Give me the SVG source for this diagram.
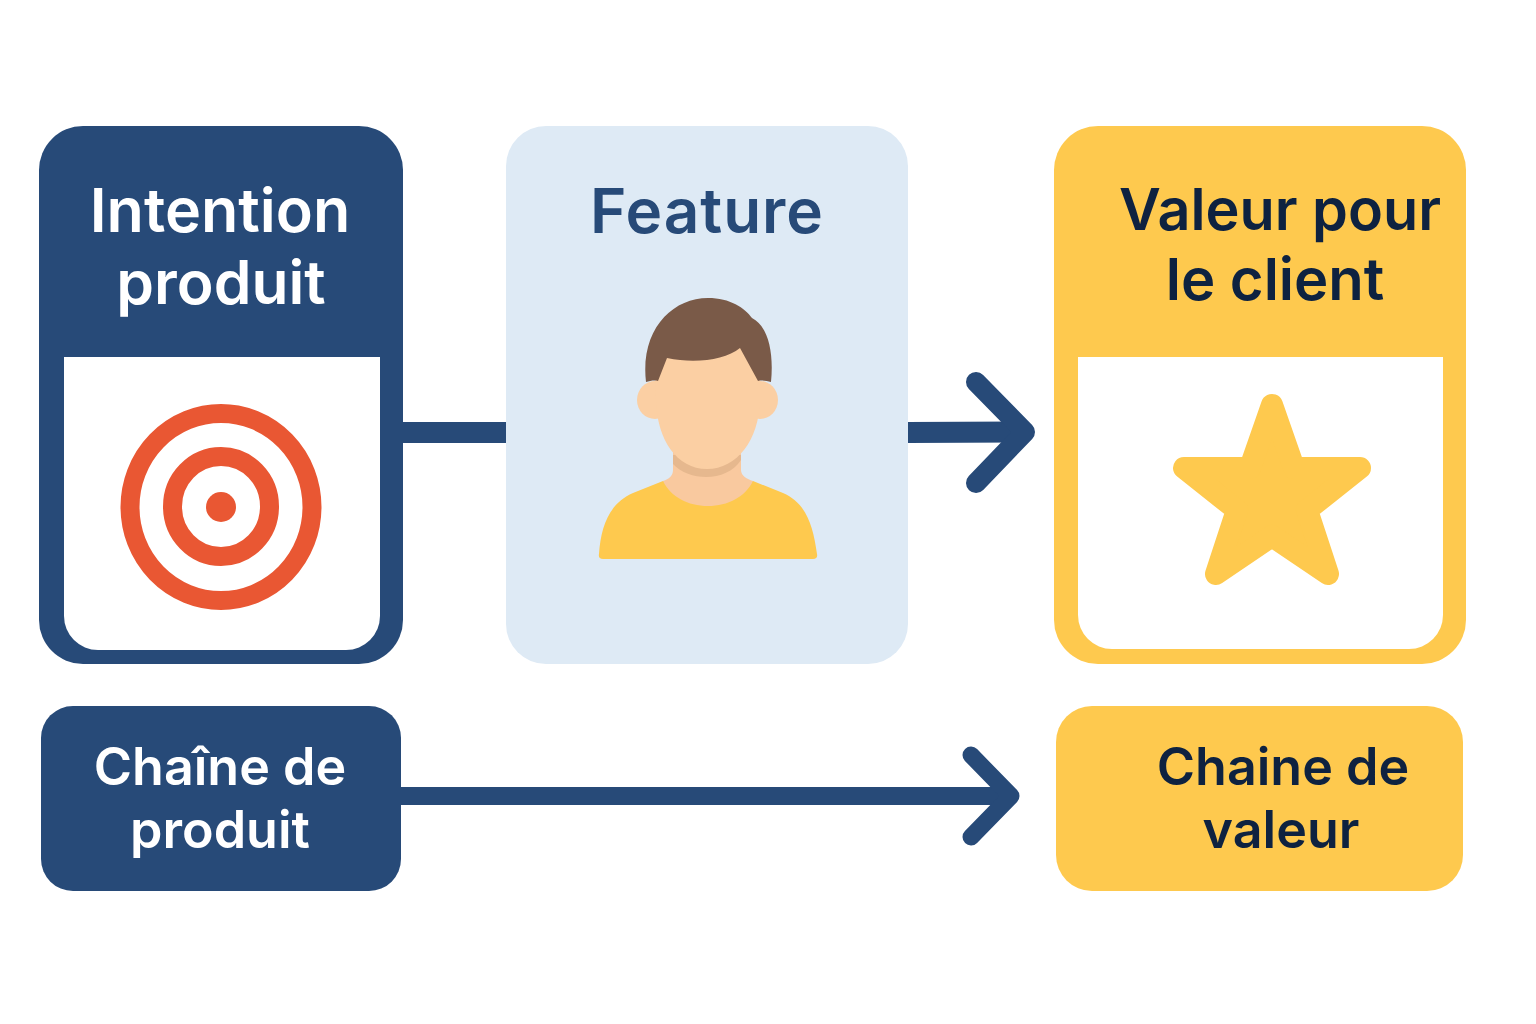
<svg xmlns="http://www.w3.org/2000/svg" width="1536" height="1024" viewBox="0 0 1536 1024">
<style>
text{font-family:"Inter","Liberation Sans",sans-serif;font-weight:600;text-anchor:middle}
.navy{fill:#274a78}.yel{fill:#fec94e}.ink{fill:#0e2240}.wh{fill:#fff}
.line{fill:none;stroke:#274a78;stroke-linecap:round;stroke-linejoin:round}
.skin{fill:#fbcfa3}
.ring{fill:none;stroke:#e95733;stroke-width:19}
</style>
<rect width="1536" height="1024" fill="#fff"/>
<g id="connectors">
<path d="M403 432.500H506" fill="none" stroke="#274a78" stroke-width="21"/>
<path d="M908 432.500L1025 432" fill="none" stroke="#274a78" stroke-width="21"/>
<path class="line" stroke-width="20" d="M976 382L1025 432L976 483"/>
<path d="M401 796H1008" fill="none" stroke="#274a78" stroke-width="18"/>
<path class="line" stroke-width="17" d="M971 755L1011 796L971 837"/>
</g>
<g id="intention">
<rect x="39" y="126" width="364" height="538" rx="44" class="navy"/>
<path d="M64 357H380V616a34 34 0 0 1-34 34H98a34 34 0 0 1-34-34Z" class="wh"/>
<text x="220" y="232" font-size="61" class="wh">Intention</text>
<text x="221" y="304" font-size="60.500" class="wh">produit</text>
<ellipse cx="221" cy="507" rx="91" ry="93.500" class="ring"/>
<ellipse cx="221" cy="506.500" rx="48.500" ry="50" class="ring"/>
<circle cx="221" cy="507" r="15" fill="#e95733"/>
</g>
<g id="feature">
<rect x="506" y="126" width="402" height="538" rx="40" fill="#deeaf5"/>
<text x="707" y="233" font-size="62" letter-spacing="1" fill="#274a78">Feature</text>
<path d="M599 554C601 525 610 503 633 493L663 481H753L783 493C806 503 813 525 817 554Q818 559 813 559H603Q598 559 599 554Z" class="yel"/>
<path d="M673 445H741V470C741 476 747 479 753 481C745 497 728 506 708 506C688 506 671 497 663 481C669 479 673 476 673 470Z" fill="#f9c99f"/>
<path d="M673 455H741V460C727 482 690 482 673 464Z" fill="#e6b88e"/>
<ellipse cx="655" cy="400" rx="18" ry="19" class="skin"/>
<ellipse cx="760" cy="400" rx="18" ry="19" class="skin"/>
<path d="M654 345H760V400C759 440 737 469 707 469C677 469 657 440 656 400Z" class="skin"/>
<path d="M646 382C640 330 672 298 708 298C730 298 745 308 752 318C768 326 774 352 771 382C767 381 762 380 758 381L740 348C725 360 695 364 667 358L658 381C654 380 650 381 646 382Z" fill="#7a5a48"/>
</g>
<g id="valeur">
<rect x="1054" y="126" width="412" height="538" rx="44" class="yel"/>
<path d="M1078 357H1443V615a34 34 0 0 1-34 34H1112a34 34 0 0 1-34-34Z" class="wh"/>
<text x="1280" y="230" font-size="57.500" class="ink">Valeur pour</text>
<text x="1275" y="300" font-size="58" class="ink">le client</text>
<path d="M1272 405L1294 468H1360L1307 510L1328 574L1272 536L1216 574L1237 510L1184 468H1250Z" class="yel" stroke="#fec94e" stroke-width="22" stroke-linejoin="round"/>
</g>
<g id="chaine-produit">
<rect x="41" y="706" width="360" height="185" rx="32" class="navy"/>
<text x="220" y="785" font-size="52" class="wh">Chaîne de</text>
<text x="220" y="848" font-size="52" class="wh">produit</text>
</g>
<g id="chaine-valeur">
<rect x="1056" y="706" width="407" height="185" rx="36" class="yel"/>
<text x="1283" y="785" font-size="52" class="ink">Chaine de</text>
<text x="1281" y="848" font-size="52" class="ink">valeur</text>
</g>
</svg>
